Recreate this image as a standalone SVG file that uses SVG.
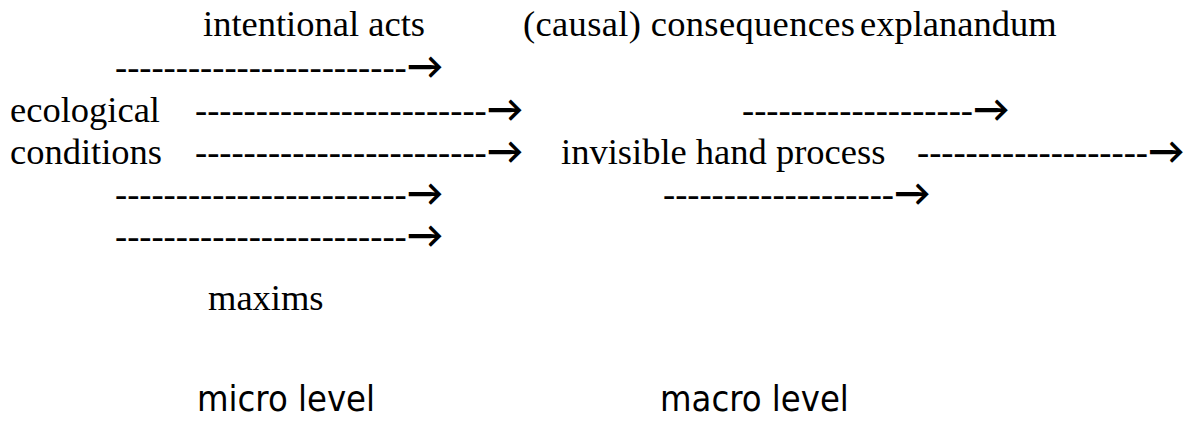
<svg xmlns="http://www.w3.org/2000/svg" width="1192" height="432" viewBox="0 0 1192 432">
<style>
.t{font-family:"Liberation Serif","Times New Roman",serif;font-size:36.5px;fill:#000}
.s{font-family:"DejaVu Sans Condensed","DejaVu Sans",sans-serif;font-stretch:condensed;font-size:36px;fill:#000}
.a{font-family:"Lato","Inter",sans-serif;font-weight:bold}
</style>
<rect width="1192" height="432" fill="#fff"/>
<g id="labels">
<text id="intentional-acts" class="t" x="203" y="36">intentional acts</text>
<text id="consequences" class="t" x="523" y="36" textLength="332">(causal) consequences</text>
<text id="explanandum" class="t" x="860" y="36">explanandum</text>
<text id="ecological" class="t" x="10" y="122">ecological</text>
<text id="conditions" class="t" x="10" y="164">conditions</text>
<text id="invisible-hand" class="t" x="561" y="164">invisible hand process</text>
<text id="maxims" class="t" x="208" y="310">maxims</text>
<text id="micro" class="s" x="197" y="411">micro level</text>
<text id="macro" class="s" x="660" y="411">macro level</text>
</g>
<g id="connectors">
<text class="t" x="115" y="79">------------------------<tspan class="a">→</tspan></text>
<text class="t" x="195" y="122">------------------------<tspan class="a">→</tspan></text>
<text class="t" x="195" y="164">------------------------<tspan class="a">→</tspan></text>
<text class="t" x="115" y="206">------------------------<tspan class="a">→</tspan></text>
<text class="t" x="115" y="248">------------------------<tspan class="a">→</tspan></text>
<text class="t" x="742" y="122">-------------------<tspan class="a">→</tspan></text>
<text class="t" x="917" y="164">-------------------<tspan class="a">→</tspan></text>
<text class="t" x="663" y="206">-------------------<tspan class="a">→</tspan></text>
</g>
</svg>
